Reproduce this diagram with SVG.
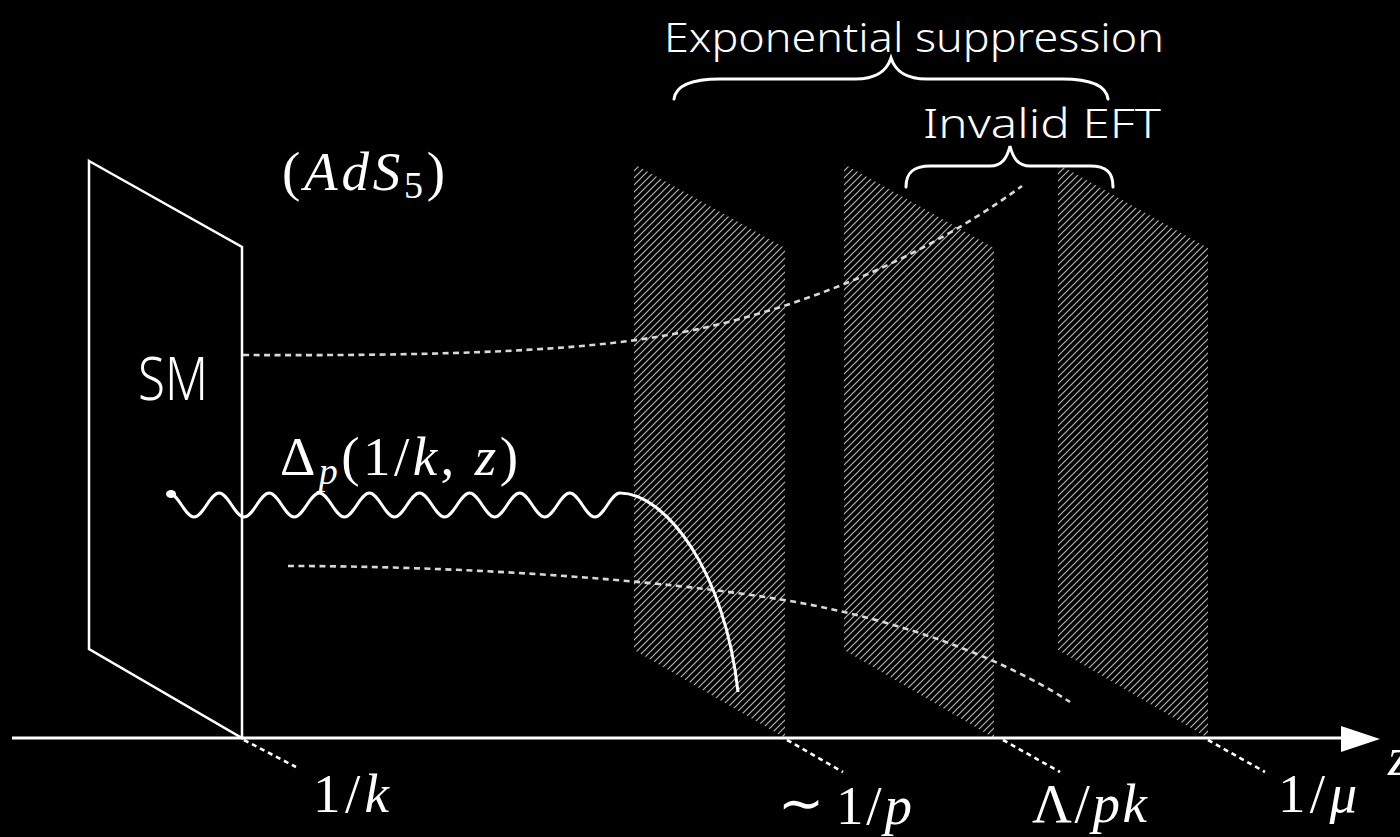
<svg xmlns="http://www.w3.org/2000/svg" width="1400" height="837" viewBox="0 0 1400 837">
<defs>
<pattern id="hatch" patternUnits="userSpaceOnUse" width="7" height="7">
<path d="M-1,1 L1,-1 M0,7 L7,0 M6,8 L8,6" stroke="#b4b4b4" stroke-width="1.2"/>
</pattern>
<style>
.hand{font-family:'Noto Sans','Open Sans',sans-serif;font-weight:300;fill:#fff;}
.math{font-family:'Liberation Serif','Times New Roman',serif;fill:#fff;font-size:55px;}
.it{font-style:italic;}
.plane{fill:url(#hatch);stroke:none;}
.edge{fill:none;stroke:#fff;stroke-width:2.5;stroke-linejoin:miter;}
.brace{fill:none;stroke:#fff;stroke-width:3;stroke-linecap:round;}
.dash{fill:none;stroke:#d8d8d8;stroke-width:2.6;stroke-dasharray:6 4.5;}
.tick{fill:none;stroke:#fff;stroke-width:2.6;stroke-dasharray:5 4;}
</style>
</defs>
<rect width="1400" height="837" fill="#000"/>

<g id="plane-1"><polygon class="plane" points="634,164 785,248 785,738 634,650"/></g>
<g id="plane-2"><polygon class="plane" points="844,164 994,248 994,738 844,650"/></g>
<g id="plane-3"><polygon class="plane" points="1058,164 1208,248 1208,738 1058,650"/></g>

<g id="sm-plane">
<polygon class="edge" points="89,161 242,247 242,738 89,649"/>
<text class="hand" x="138" y="400" font-size="60" textLength="70" lengthAdjust="spacingAndGlyphs">SM</text>
</g>

<g id="connectors">
<path class="dash" d="M243 355 C420 356 560 352 650 338 C760 321 900 275 1022 186"/>
<path class="dash" d="M288 566 C450 566 650 578 784 600 C880 616 990 650 1070 702"/>
<ellipse cx="171" cy="494" rx="5" ry="4" fill="#fff"/>
<path fill="none" stroke="#fff" stroke-width="3" d="M169 493 C178.12 493 184.93 517 194.05 517 S209.98 493 219.1 493 S235.03 517 244.15 517 S260.08 493 269.2 493 S285.13 517 294.25 517 S310.18 493 319.3 493 S335.23 517 344.35 517 S360.28 493 369.4 493 S385.33 517 394.45 517 S410.38 493 419.5 493 S435.43 517 444.55 517 S460.48 493 469.6 493 S485.53 517 494.65 517 S510.58 493 519.7 493 S535.63 517 544.75 517 S560.68 493 569.8 493 S585.73 517 594.85 517 S610.78 493 619.9 493 C665 493 725 570 738 692"/>
<line x1="12" y1="738" x2="1345" y2="738" stroke="#fff" stroke-width="3"/>
<polygon points="1341,726 1380,739 1341,752" fill="#fff"/>
<line class="tick" x1="244" y1="740" x2="296" y2="767"/>
<line class="tick" x1="787" y1="740" x2="843" y2="772"/>
<line class="tick" x1="1003" y1="740" x2="1060" y2="772"/>
<line class="tick" x1="1208" y1="740" x2="1265" y2="772"/>
</g>

<g id="brace-exponential">
<path class="brace" d="M674 99 C676 84 695 79 720 79 L855 79 C878 79 887 70 891 58 C895 70 904 79 927 79 L1062 79 C1087 79 1106 84 1108 99"/>
<text class="hand" x="664" y="52" font-size="40" textLength="500" lengthAdjust="spacingAndGlyphs">Exponential suppression</text>
</g>
<g id="brace-invalid">
<path class="brace" d="M906 187 C906 172 914 166 930 166 L990 166 C1002 166 1007 158 1010 146 C1013 158 1018 166 1030 166 L1090 166 C1106 166 1113 172 1113 187"/>
<text class="hand" x="923" y="138" font-size="40" textLength="238" lengthAdjust="spacingAndGlyphs">Invalid EFT</text>
</g>

<g id="label-ads5">
<text class="math" x="282" y="190" textLength="163" lengthAdjust="spacing">(<tspan class="it">AdS</tspan><tspan font-size="38" dy="8">5</tspan><tspan dy="-8">)</tspan></text>
</g>
<g id="label-propagator">
<text class="math" x="280" y="475" textLength="238" lengthAdjust="spacing">Δ<tspan class="it" font-size="38" dy="9">p</tspan><tspan dy="-9">(1/</tspan><tspan class="it">k</tspan>, <tspan class="it">z</tspan>)</text>
</g>
<g id="label-1k"><text class="math" x="313" y="812" textLength="76" lengthAdjust="spacing">1/<tspan class="it">k</tspan></text></g>
<g id="label-1p">
<text class="math" x="778" y="822" font-size="46">∼</text>
<text class="math" x="836" y="824" textLength="76" lengthAdjust="spacing">1/<tspan class="it">p</tspan></text>
</g>
<g id="label-lpk"><text class="math" x="1032" y="822" textLength="115" lengthAdjust="spacing">Λ/<tspan class="it">pk</tspan></text></g>
<g id="label-1mu"><text class="math" x="1278" y="812" textLength="79" lengthAdjust="spacing">1/<tspan class="it">μ</tspan></text></g>
<g id="label-z"><text class="math it" x="1388" y="775">z</text></g>
</svg>
